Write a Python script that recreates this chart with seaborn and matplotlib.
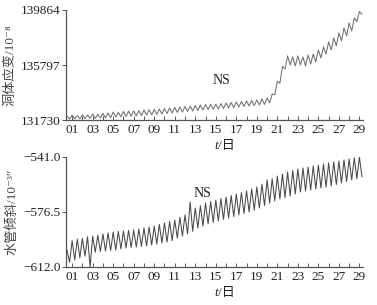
import numpy as np
import pandas as pd
import seaborn as sns
import matplotlib.pyplot as plt

# 6-hourly samples from day 0.5 to day 29.25
STEP = 0.25
T0 = 0.5

strain = [
    132020, 131800,
    132100, 131800, 132060, 131810,   # 01
    132120, 131830, 132100, 131850,
    132170, 131840, 132150, 131870,   # 03
    132210, 131880, 132250, 131910,
    132320, 131950, 132300, 131970,   # 05
    132360, 131990, 132380, 132010,
    132400, 132030, 132430, 132060,   # 07
    132470, 132100, 132490, 132120,
    132510, 132140, 132540, 132170,   # 09
    132580, 132210, 132620, 132250,
    132660, 132290, 132690, 132320,   # 11
    132730, 132360, 132760, 132400,
    132800, 132430, 132840, 132470,   # 13
    132880, 132510, 132890, 132530,
    132910, 132540, 132950, 132580,   # 15
    132990, 132620, 133020, 132650,
    133060, 132690, 133100, 132730,   # 17
    133140, 132770, 133170, 132800,
    133210, 132840, 133280, 132880,   # 19
    133360, 133000, 133650, 133600,
    134600, 134450, 135700, 135500,   # 21
    136470, 135800, 136390, 135730,
    136470, 135800, 136390, 135730,   # 23
    136540, 135870, 136610, 136020,
    136910, 136320, 137130, 136610,   # 25
    137500, 136910, 137800, 137210,
    138170, 137580, 138540, 137950,   # 27
    138910, 138320, 139280, 139000,
    139750, 139550,                   # 29
]

tilt = [
    -601.0, -609.0,
    -595.0, -607.5, -594.0, -606.0,   # 01
    -593.5, -605.0, -592.5, -612.0,
    -592.0, -602.5, -591.5, -602.0,   # 03
    -590.7, -601.7, -590.0, -601.3,
    -589.4, -601.0, -589.0, -600.3,   # 05
    -588.8, -599.7, -588.4, -599.4,
    -588.1, -599.1, -587.5, -598.7,   # 07
    -586.8, -598.4, -586.2, -597.8,
    -585.5, -597.2, -584.5, -596.5,   # 09
    -583.6, -595.9, -582.6, -595.0,
    -581.7, -593.3, -580.0, -592.0,   # 11
    -578.4, -590.7, -570.0, -589.0,
    -573.9, -586.8, -572.5, -585.5,   # 13
    -570.7, -584.2, -569.8, -583.2,
    -568.8, -582.3, -567.8, -581.3,   # 15
    -566.8, -580.4, -565.8, -579.4,
    -564.9, -578.4, -563.9, -577.5,   # 17
    -562.9, -576.5, -561.6, -575.2,
    -560.4, -573.9, -558.5, -572.3,   # 19
    -555.8, -570.7, -555.0, -569.4,
    -553.3, -568.1, -552.0, -567.2,   # 21
    -550.7, -566.2, -549.7, -564.9,
    -548.7, -563.6, -548.1, -563.0,   # 23
    -547.5, -562.3, -546.8, -561.6,
    -546.2, -561.0, -545.5, -560.4,   # 25
    -544.9, -559.7, -544.2, -558.8,
    -543.6, -557.8, -542.9, -556.8,   # 27
    -542.3, -555.8, -541.6, -554.9,
    -541.0, -553.9,                   # 29
]

strain_ticks = [131730, 135797, 139864]
strain_ticklabels = ["131730", "135797", "139864"]
tilt_ticks = [-612.0, -576.5, -541.0]
tilt_ticklabels = ["\u2212612.0", "\u2212576.5", "\u2212541.0"]
days = list(range(1, 30))
day_labels = ["%02d" % d if d % 2 == 1 else "" for d in days]

t = T0 + STEP * np.arange(len(strain))
df = pd.DataFrame({"t": t, "strain": strain, "tilt": tilt})

sns.set_style("ticks")
fams = ['Liberation Serif', 'Noto Sans CJK SC', 'DejaVu Sans']
plt.rcParams['font.family'] = fams

fig = plt.figure(figsize=(3.77, 3.05), dpi=100)
ax1 = fig.add_axes([66 / 377, 1 - 120 / 305, 297 / 377, 110 / 305])
ax2 = fig.add_axes([66 / 377, 1 - 267 / 305, 297 / 377, 110 / 305])

panels = [
    (ax1, "strain", "#707070", strain_ticks, strain_ticklabels,
     "洞体应变/10\u207b\u2078", (0.525, 0.355)),
    (ax2, "tilt", "#4a4a4a", tilt_ticks, tilt_ticklabels,
     "水管倾斜/10\u207b\u00b3\u2033", (0.46, 0.67)),
]

for ax, col, color, yt, ytl, ylab, ns_pos in panels:
    sns.lineplot(data=df, x="t", y=col, ax=ax, color=color, linewidth=0.75,
                 estimator=None)
    ax.set_xlim(0.4, 29.35)
    ax.set_ylim(yt[0], yt[-1])
    ax.set_yticks(yt)
    ax.set_yticklabels(ytl, fontsize=9.5, color="#222222")
    ax.set_xticks(days)
    ax.set_xticklabels(day_labels, fontsize=9.5, color="#222222")
    ax.tick_params(axis="x", direction="in", length=3, width=0.7,
                   color="#555555", pad=3)
    ax.tick_params(axis="y", direction="out", length=3, width=0.7,
                   color="#555555", pad=1)
    for s in ["top", "right"]:
        ax.spines[s].set_visible(False)
    for s in ["left", "bottom"]:
        ax.spines[s].set_color("#555555")
        ax.spines[s].set_linewidth(0.9)
    ax.set_xlabel("")
    ax.text(0.512, -0.18, "t", transform=ax.transAxes, fontsize=9.5,
            style="italic", ha="right", va="top", color="#222222")
    ax.text(0.512, -0.18, "/日", transform=ax.transAxes, fontsize=9.5,
            ha="left", va="top", color="#222222")
    ax.set_ylabel(ylab, fontsize=9.5, color="#444444", labelpad=3)
    ax.text(ns_pos[0], ns_pos[1], "NS", transform=ax.transAxes,
            fontsize=10, color="#222222", ha="center", va="center")

fig.savefig("out.png", dpi=100)
